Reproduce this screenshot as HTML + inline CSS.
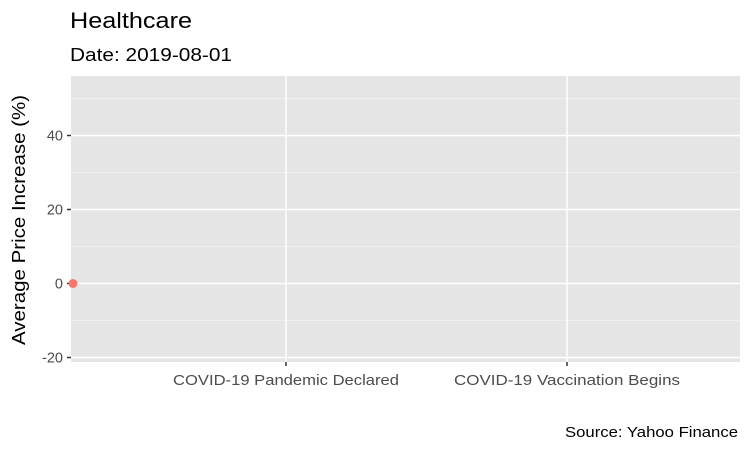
<!DOCTYPE html>
<html><head><meta charset="utf-8"><style>
body{margin:0;background:#fff;}
svg text{font-family:"Liberation Sans",Arial,sans-serif;}
</style></head><body>
<svg width="750" height="450">
<text x="70" y="28" font-size="22" fill="#000" textLength="122" lengthAdjust="spacingAndGlyphs">Healthcare</text>
<text x="70" y="61" font-size="18" fill="#000" textLength="162" lengthAdjust="spacingAndGlyphs">Date: 2019-08-01</text>
<rect x="71" y="76" width="669" height="286" fill="#e5e5e5"/>
<g id="grid"></g>
<g id="marks"></g>
<text transform="translate(25,220) rotate(-90)" text-anchor="middle" font-size="18" fill="#000" textLength="250" lengthAdjust="spacingAndGlyphs">Average Price Increase (%)</text>
<text x="738" y="437" text-anchor="end" font-size="14.5" fill="#000" textLength="173" lengthAdjust="spacingAndGlyphs">Source: Yahoo Finance</text>
</svg>
<script>
const yTicks=[-20,0,20,40];
const yMinor=[-10,10,30,50];
const xBreakLabels=["COVID-19 Pandemic Declared","COVID-19 Vaccination Begins"];
const xBreakDates=["2020-03-11","2020-12-14"];
const pointDates=["2019-08-01"];
const pointValues=[0];
const ns="http://www.w3.org/2000/svg";
const day=s=>new Date(s+"T00:00:00Z").getTime()/86400000;
const dA=day("2019-08-01"), dB=day("2020-03-11"), dC=day("2020-12-14");
const xs=d=>{const t=day(d); return t<=dB ? 73+(t-dA)/(dB-dA)*(286-73) : 286+(t-dB)/(dC-dB)*(567-286);};
const ys=v=>283.5-v*3.7;
const g=document.getElementById("grid"), m=document.getElementById("marks");
function mk(tag,attrs,parent){const e=document.createElementNS(ns,tag);for(const k in attrs)e.setAttribute(k,attrs[k]);parent.appendChild(e);return e;}
yMinor.forEach(v=>{const l=mk("line",{x1:71,x2:740,y1:ys(v),y2:ys(v),stroke:"#f2f2f2","stroke-width":0.8},g);

});
yTicks.forEach(v=>{const y=ys(v);
const l=mk("line",{x1:71,x2:740,y1:y,y2:y,stroke:"#fff","stroke-width":1.5},g);


const t=mk("line",{x1:67,x2:71,y1:y,y2:y,stroke:"#333","stroke-width":1.5},g);


const tx=mk("text",{x:63,y:y+5,"text-anchor":"end","font-size":14.5,fill:"#4d4d4d"},g);tx.textContent=v;

});
xBreakDates.forEach((d,i)=>{const x=xs(d);
const l=mk("line",{x1:x,x2:x,y1:76,y2:362,stroke:"#fff","stroke-width":1.5},g);


const t=mk("line",{x1:x,x2:x,y1:362,y2:366,stroke:"#333","stroke-width":1.5},g);


const tx=mk("text",{x:x,y:385,"text-anchor":"middle","font-size":15,fill:"#4d4d4d",textLength:226,lengthAdjust:"spacingAndGlyphs"},g);tx.textContent=xBreakLabels[i];

});
pointDates.forEach((d,i)=>{const c=mk("circle",{cx:xs(d),cy:ys(pointValues[i]),r:4.5,fill:"#f8766d"},m);

});
</script>
</body></html>
